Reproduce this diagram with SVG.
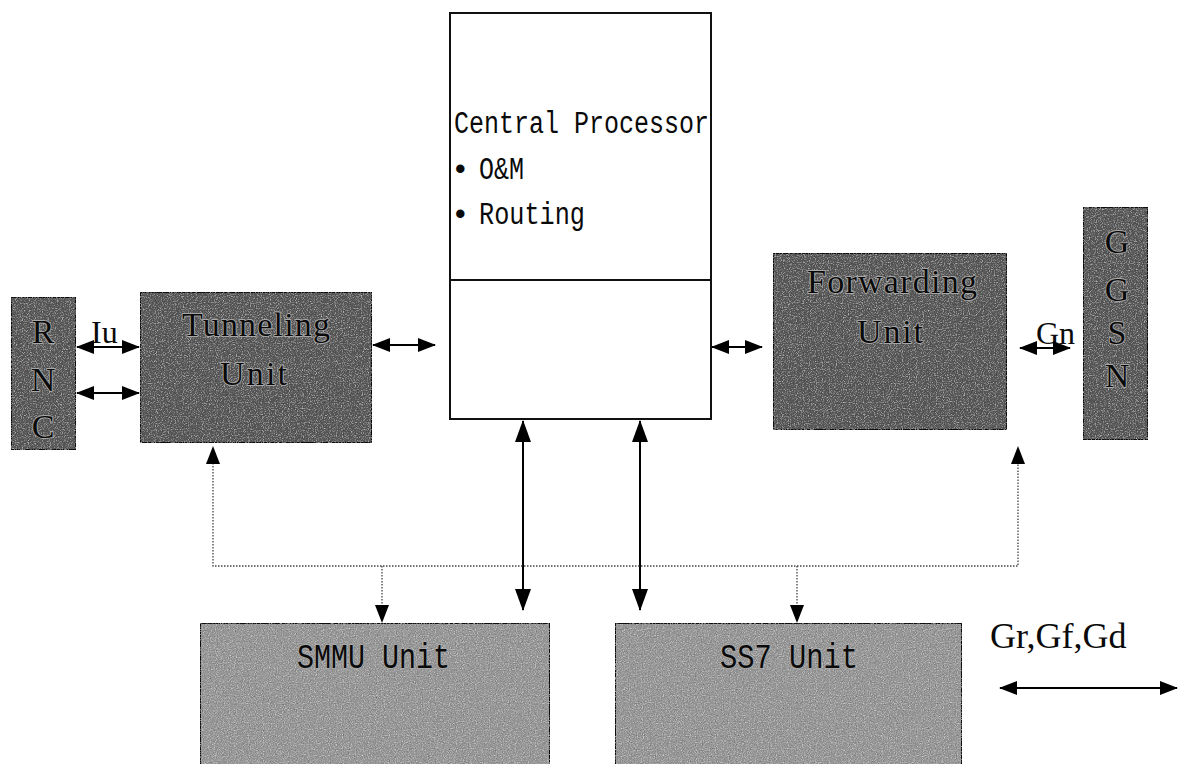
<svg xmlns="http://www.w3.org/2000/svg" width="1179" height="764" viewBox="0 0 1179 764">
<style>
.box{stroke:#111;stroke-width:2}
.dark{fill:#585858}
.light{fill:#979797}
.serif{font-family:"Liberation Serif","Times New Roman",serif;fill:#0a0a0a}
.mono{font-family:"Liberation Mono","Courier New",monospace;fill:#0a0a0a}
.emb{stroke:#a8a8a8;stroke-width:1.8;paint-order:stroke;stroke-linejoin:round}
.solid{stroke:#000;stroke-width:2;fill:none}
.dot{stroke:#444;stroke-width:1.3;stroke-dasharray:1.5 1.5;fill:none}
</style>
<defs>
<marker id="ah" viewBox="0 0 18 14" refX="17" refY="7" markerWidth="18" markerHeight="14" markerUnits="userSpaceOnUse" orient="auto-start-reverse">
<path d="M0,0 L18,7 L0,14 z" fill="#000"/>
</marker>
<marker id="ahb" viewBox="0 0 22 16" refX="21" refY="8" markerWidth="22" markerHeight="16" markerUnits="userSpaceOnUse" orient="auto-start-reverse">
<path d="M0,0 L22,8 L0,16 z" fill="#000"/>
</marker>
<filter id="grain" x="0" y="0" width="100%" height="100%">
<feTurbulence type="fractalNoise" baseFrequency="0.85" numOctaves="2" seed="7" result="n"/>
<feColorMatrix in="n" type="matrix" values="0.33 0.33 0.33 0 0 0.33 0.33 0.33 0 0 0.33 0.33 0.33 0 0 0 0 0 0 1" result="g"/>
<feBlend in="SourceGraphic" in2="g" mode="overlay" result="b"/>
<feComposite in="b" in2="SourceGraphic" operator="in"/>
</filter>
</defs>

<g id="central-processor">
<rect x="450" y="13" width="261" height="406" fill="#fff" class="box"/>
<line x1="450" y1="280" x2="711" y2="280" stroke="#111" stroke-width="2"/>
<text class="mono" x="454" y="133" font-size="31" textLength="255" lengthAdjust="spacingAndGlyphs">Central Processor</text>
<text class="mono" x="451" y="179" font-size="31">•</text>
<text class="mono" x="479" y="179" font-size="31" textLength="45" lengthAdjust="spacingAndGlyphs">O&amp;M</text>
<text class="mono" x="451" y="224" font-size="31">•</text>
<text class="mono" x="479" y="224" font-size="31" textLength="106" lengthAdjust="spacingAndGlyphs">Routing</text>
</g>

<g id="rnc">
<rect x="11" y="297" width="65" height="153" class="box dark" filter="url(#grain)"/>
<text class="serif emb" x="43" y="343" font-size="34" text-anchor="middle">R</text>
<text class="serif emb" x="43" y="391" font-size="34" text-anchor="middle">N</text>
<text class="serif emb" x="43" y="438" font-size="34" text-anchor="middle">C</text>
</g>

<g id="tunneling-unit">
<rect x="140" y="292" width="232" height="151" class="box dark" filter="url(#grain)"/>
<text class="serif emb" x="182" y="336" font-size="34" textLength="148" lengthAdjust="spacing">Tunneling</text>
<text class="serif emb" x="220" y="385" font-size="34" textLength="67" lengthAdjust="spacing">Unit</text>
</g>

<g id="forwarding-unit">
<rect x="773" y="253" width="234" height="177" class="box dark" filter="url(#grain)"/>
<text class="serif emb" x="807" y="293" font-size="34" textLength="170" lengthAdjust="spacing">Forwarding</text>
<text class="serif emb" x="857" y="343" font-size="34" textLength="66" lengthAdjust="spacing">Unit</text>
</g>

<g id="ggsn">
<rect x="1083" y="207" width="65" height="233" class="box dark" filter="url(#grain)"/>
<text class="serif emb" x="1117" y="253" font-size="34" text-anchor="middle">G</text>
<text class="serif emb" x="1117" y="301" font-size="34" text-anchor="middle">G</text>
<text class="serif emb" x="1117" y="344" font-size="34" text-anchor="middle">S</text>
<text class="serif emb" x="1117" y="387" font-size="34" text-anchor="middle">N</text>
</g>

<g id="smmu-unit">
<rect x="200" y="623" width="350" height="150" class="box light" filter="url(#grain)"/>
<text class="mono emb" x="297" y="668" font-size="35" textLength="153" lengthAdjust="spacingAndGlyphs">SMMU Unit</text>
</g>

<g id="ss7-unit">
<rect x="615" y="623" width="347" height="150" class="box light" filter="url(#grain)"/>
<text class="mono emb" x="720" y="668" font-size="35" textLength="138" lengthAdjust="spacingAndGlyphs">SS7 Unit</text>
</g>

<g id="labels">
<text class="serif" x="91" y="343" font-size="32">Iu</text>
<text class="serif" x="1036" y="344" font-size="32">Gn</text>
<text class="serif" x="990" y="648" font-size="36">Gr,Gf,Gd</text>
</g>

<g id="connectors">
<line class="solid" x1="77" y1="347" x2="139" y2="347" marker-start="url(#ah)" marker-end="url(#ah)"/>
<line class="solid" x1="77" y1="393" x2="139" y2="393" marker-start="url(#ah)" marker-end="url(#ah)"/>
<line class="solid" x1="373" y1="345" x2="435" y2="345" marker-start="url(#ah)" marker-end="url(#ah)"/>
<line class="solid" x1="712" y1="347" x2="762" y2="347" marker-start="url(#ah)" marker-end="url(#ah)"/>
<line class="solid" x1="1020" y1="348" x2="1070" y2="348" marker-start="url(#ah)" marker-end="url(#ah)"/>
<line class="solid" x1="523" y1="421" x2="523" y2="610" marker-start="url(#ahb)" marker-end="url(#ahb)"/>
<line class="solid" x1="640" y1="421" x2="640" y2="610" marker-start="url(#ahb)" marker-end="url(#ahb)"/>
<line class="solid" x1="1000" y1="688" x2="1177" y2="688" marker-start="url(#ah)" marker-end="url(#ah)"/>
<polyline class="dot" points="213,460 213,566 1018,566 1018,460"/>
<path d="M206,464 L213,446 L220,464 z" fill="#000"/>
<path d="M1011,464 L1018,446 L1025,464 z" fill="#000"/>
<line class="dot" x1="382" y1="566" x2="382" y2="608"/>
<line class="dot" x1="797" y1="566" x2="797" y2="608"/>
<path d="M375,605 L382,623 L389,605 z" fill="#000"/>
<path d="M790,605 L797,623 L804,605 z" fill="#000"/>
</g>
</svg>
